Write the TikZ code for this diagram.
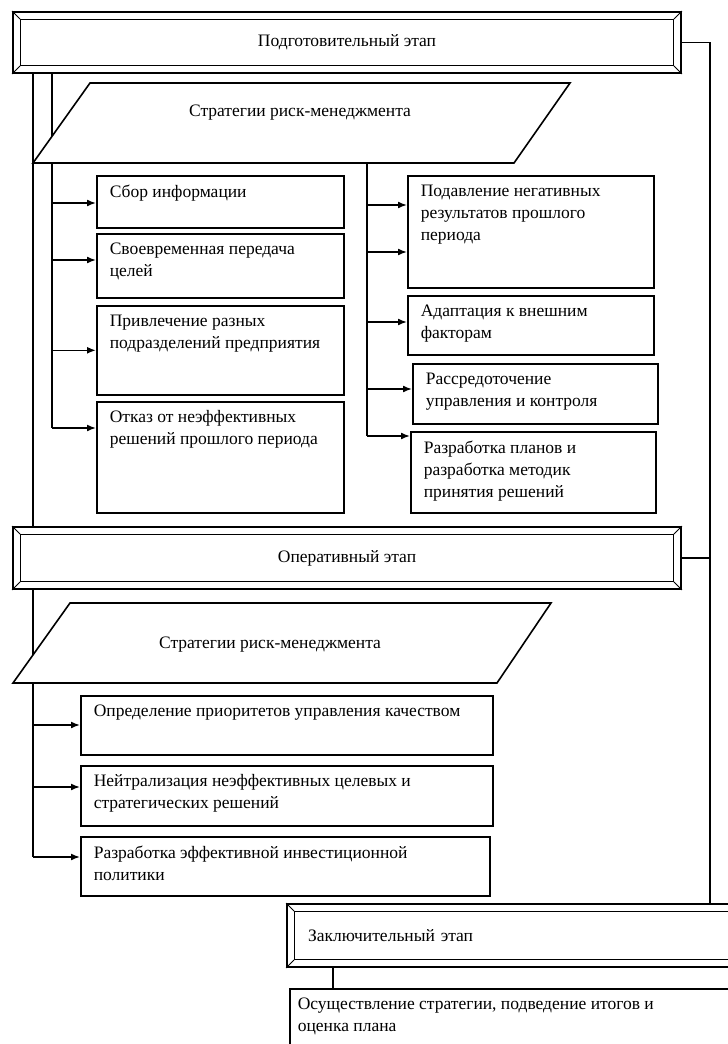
\documentclass[tikz,border=0pt]{standalone}
\usepackage{fontspec}
\setmainfont{Liberation Serif}
\usetikzlibrary{arrows.meta,calc}
\newcommand{\cell}[3]{\parbox[t][\dimexpr#2-18pt\relax][t]{\dimexpr#1-26pt\relax}{\raggedright#3}}

\begin{document}
\begin{tikzpicture}[
  x=1pt, y=-1pt,
  >={Latex[length=9pt,width=7pt]},
  every node/.style={font=\fontsize{17.5}{22}\selectfont},
  stage/.style={draw, line width=1.8pt, inner sep=0pt},
  item/.style={draw, line width=1.6pt, anchor=north west, inner xsep=13pt, inner ysep=9pt},
  wire/.style={line width=1.6pt},
  feed/.style={wire, ->}
]
  \useasboundingbox (0,0) rectangle (728,1044);
  \coordinate (tbus) at (33,0);
  \coordinate (lbus) at (52,0);
  \coordinate (rbus) at (367,0);
  \coordinate (obus) at (710,0);
  \coordinate (fbus) at (333,0);

  % Stage boxes
  \node[stage, minimum width=668pt, minimum height=61pt] (prep) at (347,42.5) {Подготовительный этап};
  \node[stage, minimum width=668pt, minimum height=62pt] (oper) at (347,558) {Оперативный этап};
  \node[stage, minimum height=63pt, text width=407pt, inner xsep=21pt, align=left] (final) at (511.5,935.5) {Заключительный этап};
  \foreach \b in {prep,oper,final} {
    \draw[line width=1pt] ($(\b.north west)+(8,8)$) rectangle ($(\b.south east)+(-8,-8)$);
    \draw[line width=1pt] (\b.north west) -- ++(8,8);
    \draw[line width=1pt] (\b.north east) -- ++(-8,8);
    \draw[line width=1pt] (\b.south west) -- ++(8,-8);
    \draw[line width=1pt] (\b.south east) -- ++(-8,-8);
  }

  % Left column of the first stage
  \node[item] (L1) at (96,175) {\cell{247pt}{52pt}{Сбор информации}};
  \node[item] (L2) at (96,233) {\cell{247pt}{64pt}{Своевременная передача\\целей}};
  \node[item] (L3) at (96,305) {\cell{247pt}{89pt}{Привлечение разных\\подразделений предприятия}};
  \node[item] (L4) at (96,401) {\cell{247pt}{111pt}{Отказ от неэффективных\\решений прошлого периода}};

  % Right column of the first stage
  \node[item] (R1) at (407,175) {\cell{246pt}{112pt}{Подавление негативных\\результатов прошлого\\периода}};
  \node[item] (R2) at (407,295) {\cell{246pt}{59pt}{Адаптация к внешним\\факторам}};
  \node[item] (R3) at (412,363) {\cell{245pt}{60pt}{Рассредоточение\\управления и контроля}};
  \node[item] (R4) at (410,431) {\cell{245pt}{81pt}{Разработка планов и\\разработка методик\\принятия решений}};

  % Items of the operative stage
  \node[item] (O1) at (80,695) {\cell{412pt}{59pt}{Определение приоритетов управления качеством}};
  \node[item] (O2) at (80,765) {\cell{412pt}{60pt}{Нейтрализация неэффективных целевых и\\стратегических решений}};
  \node[item] (O3) at (80,836) {\cell{409pt}{59pt}{Разработка эффективной инвестиционной\\политики}};

  % Final item (runs off the page)
  \node[item, inner xsep=8pt] (done) at (289,988) {\cell{470pt}{80pt}{Осуществление стратегии, подведение итогов и\\оценка плана}};

  % Trunks
  \draw[wire] (prep.south -| tbus) -- (oper.north -| tbus);
  \draw[wire] (oper.south -| tbus) -- ($(O3.north west -| tbus)+(0,21)$);
  \draw[wire] (prep.south -| lbus) -- ($(L4.north west -| lbus)+(0,27)$);
  \draw[wire] (prep.east) -- (prep.east -| obus) -- (final.north -| obus);
  \draw[wire] (oper.east) -- (oper.east -| obus);
  \draw[wire] (final.south -| fbus) -- (done.north -| fbus);

  % Strategy parallelograms
  \draw[wire, fill=white] (90,83) -- (570,83) -- (514,163) coordinate (s1br) -- (33,163) coordinate (s1bl) -- cycle;
  \node (strat1) at (300,113) {Стратегии риск-менеджмента};
  \draw[wire, fill=white] (70,603) -- (551,603) -- (497,683) -- (13,683) -- cycle;
  \node (strat2) at (270,645) {Стратегии риск-менеджмента};

  \draw[wire] (s1bl -| rbus) -- ($(R4.north west -| rbus)+(0,5)$);

  % Branch arrows
  \draw[feed] ($(L1.north west -| lbus)+(0,28)$) -- ($(L1.north west)+(0,28)$);
  \draw[feed] ($(L2.north west -| lbus)+(0,27)$) -- ($(L2.north west)+(0,27)$);
  \draw[feed] (L3.west -| lbus) -- (L3.west);
  \draw[feed] ($(L4.north west -| lbus)+(0,27)$) -- ($(L4.north west)+(0,27)$);
  \draw[feed] ($(R1.north west -| rbus)+(0,30)$) -- ($(R1.north west)+(0,30)$);
  \draw[feed] ($(R1.north west -| rbus)+(0,77)$) -- ($(R1.north west)+(0,77)$);
  \draw[feed] ($(R2.north west -| rbus)+(0,27)$) -- ($(R2.north west)+(0,27)$);
  \draw[feed] ($(R3.north west -| rbus)+(0,26)$) -- ($(R3.north west)+(0,26)$);
  \draw[feed] ($(R4.north west -| rbus)+(0,5)$) -- ($(R4.north west)+(0,5)$);
  \draw[feed] ($(O1.north west -| tbus)+(0,30)$) -- ($(O1.north west)+(0,30)$);
  \draw[feed] ($(O2.north west -| tbus)+(0,22)$) -- ($(O2.north west)+(0,22)$);
  \draw[feed] ($(O3.north west -| tbus)+(0,21)$) -- ($(O3.north west)+(0,21)$);
\end{tikzpicture}
\end{document}
